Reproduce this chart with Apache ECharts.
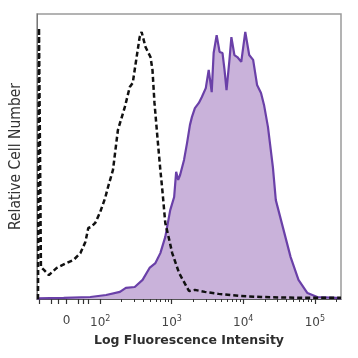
<!DOCTYPE html>
<html><head><meta charset="utf-8">
<script src="https://cdn.jsdelivr.net/npm/echarts@6/dist/echarts.min.js"></script>
<style>html,body{margin:0;padding:0;background:#fff}#c{width:358px;height:358px}</style>
</head><body><div id="c"></div>
<script>
// x values are in display decades (2 = 10^2, 3 = 10^3 ...), biexponential below 10^2
// y values are relative cell number (0-100)
const stainedX = [1.117,1.49,1.862,2.083,2.276,2.359,2.483,2.593,2.690,2.772,2.841,2.910,2.979,3.034,3.062,3.090,3.117,3.172,3.214,3.255,3.283,3.324,3.379,3.421,3.476,3.517,3.559,3.586,3.628,3.669,3.710,3.738,3.766,3.807,3.834,3.876,3.917,3.972,4.028,4.083,4.138,4.193,4.248,4.290,4.345,4.414,4.455,4.552,4.662,4.772,4.897,5.034,5.310,5.366];
const stainedY = [0.2,0.4,0.7,1.4,2.5,3.9,4.2,6.7,10.9,12.6,16.1,21.8,31.2,35.8,44.6,41.8,43.5,48.8,54.7,61.1,63.9,67.0,68.8,70.9,74.0,80.4,72.6,86.3,92.6,86.7,86.3,80.4,73.3,83.9,91.9,85.6,84.9,83.2,93.7,85.6,83.9,75.1,72.3,68.1,60.4,46.3,34.7,25.3,14.7,6.7,2.1,0.7,0.4,0.2];
const controlX = [1.131,1.145,1.172,1.214,1.283,1.393,1.531,1.628,1.724,1.793,1.834,1.876,1.931,2.0,2.069,2.110,2.179,2.248,2.290,2.345,2.414,2.455,2.497,2.552,2.579,2.634,2.703,2.731,2.759,2.800,2.841,2.869,2.910,2.966,3.007,3.103,3.241,3.324,3.462,3.655,3.931,4.248,4.8,5.366];
const controlY = [0,95.1,11.2,10.2,8.4,10.9,12.6,13.7,16.1,20.0,24.9,25.3,26.7,30.5,35.4,39.3,45.3,59.3,62.8,67.4,74.4,75.8,82.8,91.9,93.7,88.4,84.9,80.4,68.8,56.8,45.3,38.2,26.7,20.7,16.1,9.1,2.8,3.2,2.5,1.8,1.1,0.7,0.4,0.4];
const labelValues = [1.53,2,3,4,5];
const labelTexts = ['0','10|2','10|3','10|4','10|5'];
const majorTicks = [1.145,1.31,1.42,1.53,1.70,1.77,1.83,2,3,4,5];
const minorTicks = [];
for (let n = 2; n <= 5; n++) for (let k = 2; k <= 9; k++) { const v = n + Math.log10(k); if (v < 5.36) minorTicks.push(+v.toFixed(4)); }
const xMin = 1.117, xMax = 5.366;

const zip = (a, b) => a.map((v, i) => [v, b[i]]);
const chart = echarts.init(document.getElementById('c'));
chart.setOption({
  animation: false,
  grid: {left: 33, right: 17, top: 14, bottom: 59, show: true, borderColor: '#9a9a9a', borderWidth: 1.5},
  xAxis: [{
    type: 'value', min: xMin, max: xMax,
    name: 'Log Fluorescence Intensity', nameLocation: 'middle', nameGap: 35,
    nameTextStyle: {fontFamily: 'DejaVu Sans', fontSize: 12.5, fontWeight: 'bold', color: '#2e2e2e'},
    axisLine: {show: true, lineStyle: {color: '#555', width: 1}},
    splitLine: {show: false},
    axisTick: {show: true, customValues: majorTicks, length: 5, lineStyle: {color: '#333', width: 1.2}},
    axisLabel: {customValues: labelValues, margin: 16,
      fontFamily: 'DejaVu Sans', fontSize: 12, color: '#444',
      formatter: function (v) {
        const i = labelValues.findIndex(x => Math.abs(x - v) < 1e-6);
        if (i < 0) return '';
        const t = labelTexts[i].split('|');
        return t.length > 1 ? '{b|' + t[0] + '}{s|' + t[1] + '}' : '{b|' + t[0] + '}';
      },
      rich: {b: {fontFamily: 'DejaVu Sans', fontSize: 12, color: '#444'},
             s: {fontFamily: 'DejaVu Sans', fontSize: 8, color: '#444', verticalAlign: 'top', padding: [0, 0, 7, 0]}}
    }
  }, {
    type: 'value', min: xMin, max: xMax, position: 'bottom',
    axisLine: {show: false}, splitLine: {show: false},
    axisTick: {show: true, customValues: minorTicks, length: 3, lineStyle: {color: '#333', width: 1}},
    axisLabel: {show: false}
  }],
  yAxis: {
    type: 'value', min: 0, max: 100,
    name: 'Relative Cell Number', nameLocation: 'middle', nameGap: 13,
    nameTextStyle: {fontFamily: "'DejaVu Sans Condensed', 'Liberation Sans', sans-serif", fontSize: 15.5, color: '#333'},
    axisLine: {show: true, lineStyle: {color: '#777', width: 1}},
    axisTick: {show: false}, axisLabel: {show: false}, splitLine: {show: false}
  },
  series: [{
    type: 'line', xAxisIndex: 0, data: zip(stainedX, stainedY), showSymbol: false,
    lineStyle: {color: '#6a40a8', width: 2.2},
    areaStyle: {color: '#c9b2da', opacity: 1}
  }, {
    type: 'line', xAxisIndex: 0, data: zip(controlX, controlY), showSymbol: false,
    lineStyle: {color: '#111', width: 2.5, type: [5, 3]}
  }]
});
</script></body></html>
